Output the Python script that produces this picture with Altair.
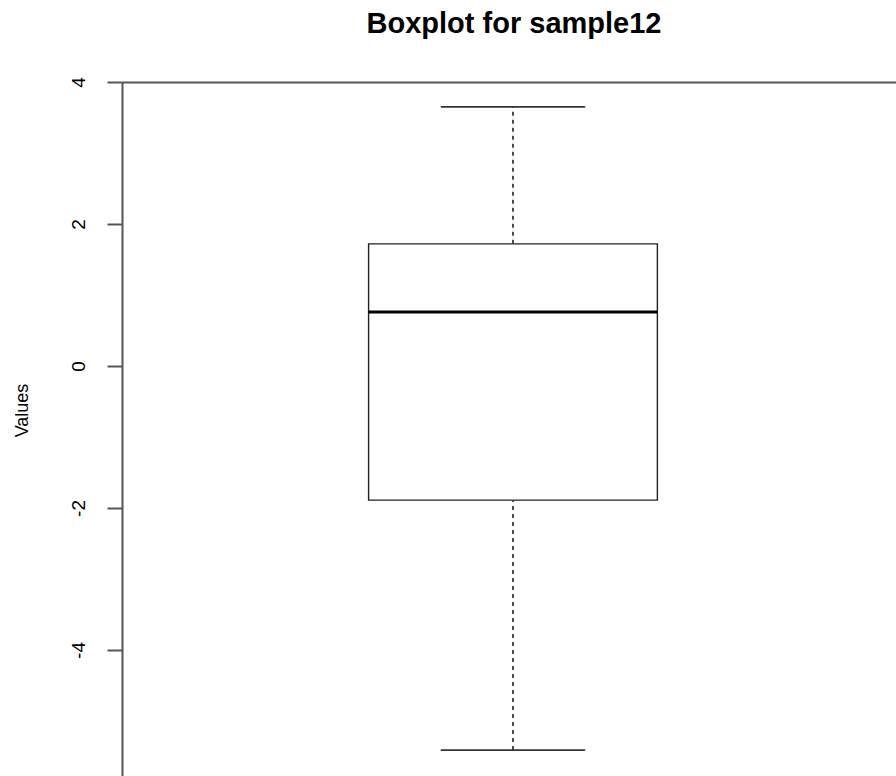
import altair as alt
import pandas as pd

# data
group = ["sample12"]
lower_whisker = [-5.41]
q1 = [-1.89]
median = [0.76]
q3 = [1.72]
upper_whisker = [3.65]
y_ticks = [-4, -2, 0, 2, 4]

# layout constants (R boxplot style: group at x=1, box width 0.8, staple 0.4)
CENTER = 1.0
BOX_HALF = 0.4
CAP_HALF = 0.2

df = pd.DataFrame({
    "group": group,
    "lo": lower_whisker,
    "q1": q1,
    "med": median,
    "q3": q3,
    "hi": upper_whisker,
})
df["xc"] = CENTER
df["bx1"] = CENTER - BOX_HALF
df["bx2"] = CENTER + BOX_HALF
df["cx1"] = CENTER - CAP_HALF
df["cx2"] = CENTER + CAP_HALF

FONT = "Liberation Sans"
AXIS_COL = "#555555"

xscale = alt.Scale(domain=[-0.0831, 2.061], nice=False, zero=False)
yscale = alt.Scale(domain=[-5.775, 4.0], nice=False, zero=False)

base = alt.Chart(df)

xaxis = alt.Axis(orient="top", labels=False, ticks=False, title=None, grid=False,
                 domainColor=AXIS_COL, domainWidth=2)
yaxis = alt.Axis(values=y_ticks, title="Values", grid=False, tickSize=15,
                 tickColor=AXIS_COL, tickWidth=2, domainColor=AXIS_COL, domainWidth=2,
                 labelExpr="datum.value + ''",
                 labelAngle=270, labelAlign="center", labelBaseline="alphabetic",
                 labelPadding=23, labelFont=FONT, labelFontSize=19, labelColor="#000000",
                 titleFont=FONT, titleFontSize=18, titleFontWeight="normal",
                 titleColor="#000000", titleX=-100, titleY=328, titleAngle=270,
                 titleAlign="center", titleBaseline="middle")

whisk_up = base.mark_rule(color="#000000", strokeWidth=1.4, strokeDash=[4, 4]).encode(
    x=alt.X("xc:Q", scale=xscale, axis=xaxis),
    y=alt.Y("q3:Q", scale=yscale, axis=yaxis),
    y2="hi:Q",
)
whisk_dn = base.mark_rule(color="#000000", strokeWidth=1.4, strokeDash=[4, 4]).encode(
    x="xc:Q", y="lo:Q", y2="q1:Q")
cap_up = base.mark_rule(color="#333333", strokeWidth=1.6).encode(
    x="cx1:Q", x2="cx2:Q", y="hi:Q")
cap_dn = base.mark_rule(color="#333333", strokeWidth=1.6).encode(
    x="cx1:Q", x2="cx2:Q", y="lo:Q")
box = base.mark_rect(fill="white", stroke="#222222", strokeWidth=1.4).encode(
    x="bx1:Q", x2="bx2:Q", y="q1:Q", y2="q3:Q")
med = base.mark_rule(color="#000000", strokeWidth=3).encode(
    x="bx1:Q", x2="bx2:Q", y="med:Q")

chart = alt.layer(whisk_up, whisk_dn, cap_up, cap_dn, box, med).properties(
    width=774,
    height=694,
    autosize=alt.AutoSizeParams(type="none"),
    padding={"left": 122, "top": 82, "right": 0, "bottom": 0},
    title=alt.TitleParams("Boxplot for sample12", font=FONT, fontSize=29,
                          fontWeight="bold", color="#000000", anchor="middle",
                          baseline="alphabetic", offset=15, dx=5),
).configure_view(stroke=None).configure(background="white")

chart.save("out.html", embed_options={"renderer": "svg", "actions": False})
